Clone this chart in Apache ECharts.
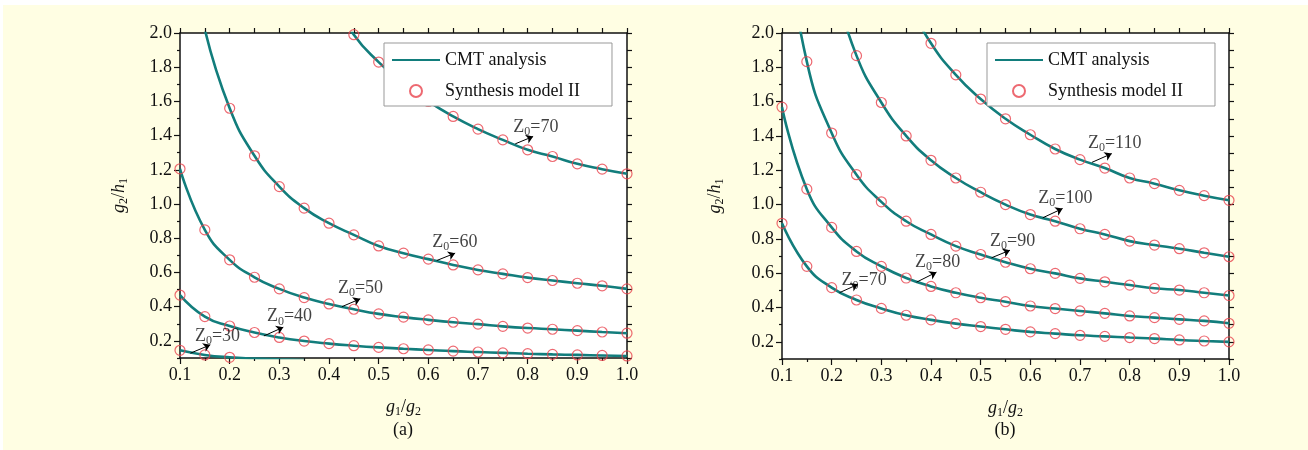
<!DOCTYPE html>
<html>
<head>
<meta charset="utf-8">
<script src="https://cdn.jsdelivr.net/npm/echarts@6/dist/echarts.min.js"></script>
<style>
  html, body { margin: 0; padding: 0; background: #fff; }
  #wrap { position: relative; width: 1308px; height: 450px; }
  #paper { position: absolute; left: 3px; top: 5px; right: 0; bottom: 0; background: #fffee3; }
  #chart { position: absolute; left: 0; top: 0; width: 1308px; height: 450px; }
</style>
</head>
<body>
<div id="wrap"><div id="paper"></div><div id="chart"></div></div>
<script>
// g1/g2 sample points
const xValues = [0.1, 0.15, 0.2, 0.25, 0.3, 0.35, 0.4, 0.45, 0.5, 0.55, 0.6, 0.65, 0.7, 0.75, 0.8, 0.85, 0.9, 0.95, 1.0];
const xTickLabels = [0.1, 0.2, 0.3, 0.4, 0.5, 0.6, 0.7, 0.8, 0.9, 1.0];
const yTickLabels = [0.2, 0.4, 0.6, 0.8, 1.0, 1.2, 1.4, 1.6, 1.8, 2.0];
const yMinorTicks = [0.1, 0.3, 0.5, 0.7, 0.9, 1.1, 1.3, 1.5, 1.7, 1.9];

// (a) g2/h1 for each Z0
const a30 = [0.145, 0.118, 0.104, 0.097, 0.092, 0.088, null, null, null, null, null, null, null, null, null, null, null, null, null];
const a40 = [0.468, 0.342, 0.287, 0.249, 0.220, 0.199, 0.184, 0.172, 0.162, 0.154, 0.147, 0.140, 0.135, 0.130, 0.125, 0.121, 0.118, 0.115, 0.112];
const a50 = [1.206, 0.849, 0.674, 0.572, 0.504, 0.453, 0.416, 0.385, 0.358, 0.339, 0.323, 0.309, 0.298, 0.285, 0.275, 0.268, 0.260, 0.252, 0.245];
const a60 = [null, 2.02, 1.56, 1.282, 1.102, 0.976, 0.888, 0.820, 0.755, 0.713, 0.678, 0.644, 0.615, 0.592, 0.570, 0.553, 0.537, 0.522, 0.504];
const a70 = [null, null, null, null, null, null, 2.24, 1.99, 1.83, 1.705, 1.60, 1.512, 1.438, 1.375, 1.317, 1.278, 1.235, 1.204, 1.177];

// (b) g2/h1 for each Z0
const b70 = [0.891, 0.640, 0.516, 0.444, 0.395, 0.355, 0.328, 0.306, 0.289, 0.273, 0.258, 0.248, 0.238, 0.232, 0.225, 0.219, 0.211, 0.205, 0.200];
const b80 = [1.568, 1.090, 0.867, 0.727, 0.640, 0.572, 0.523, 0.486, 0.457, 0.434, 0.409, 0.394, 0.380, 0.366, 0.351, 0.341, 0.331, 0.322, 0.308];
const b90 = [2.70, 1.833, 1.417, 1.174, 1.016, 0.903, 0.826, 0.758, 0.709, 0.664, 0.626, 0.599, 0.570, 0.550, 0.531, 0.512, 0.502, 0.486, 0.470];
const b100 = [null, null, 2.33, 1.868, 1.595, 1.400, 1.258, 1.155, 1.072, 1.000, 0.942, 0.903, 0.859, 0.826, 0.787, 0.764, 0.743, 0.719, 0.696];
const b110 = [null, null, null, null, null, 2.20, 1.94, 1.756, 1.615, 1.500, 1.407, 1.324, 1.262, 1.213, 1.155, 1.122, 1.083, 1.052, 1.025];

// Z0 callouts: [label, textX, textY, arrowFromX, arrowFromY, arrowToX, arrowToY]
const notesA = [
  ['30', 0.130, 0.229, 0.121, 0.128, 0.161, 0.177],
  ['40', 0.275, 0.342, 0.269, 0.229, 0.308, 0.280],
  ['50', 0.418, 0.510, 0.426, 0.400, 0.463, 0.446],
  ['60', 0.608, 0.778, 0.617, 0.670, 0.654, 0.713],
  ['70', 0.771, 1.450, 0.775, 1.352, 0.811, 1.395]
];
const notesB = [
  ['70', 0.220, 0.558, 0.216, 0.487, 0.253, 0.535],
  ['80', 0.368, 0.665, 0.371, 0.548, 0.411, 0.606],
  ['90', 0.519, 0.787, 0.522, 0.690, 0.559, 0.734],
  ['100', 0.616, 1.039, 0.625, 0.923, 0.665, 0.977],
  ['110', 0.716, 1.359, 0.724, 1.246, 0.764, 1.297]
];

const FONT = "'Liberation Serif', 'Times New Roman', serif";
const TEAL = '#127d7c';
const RED = '#e9444d';

const chart = echarts.init(document.getElementById('chart'));

const pair = (ys) => xValues.map((x, i) => [x, ys[i]]);

function curveSeries(ys, axisX, axisY) {
  return [
    {
      name: 'CMT analysis', type: 'line', xAxisIndex: axisX, yAxisIndex: axisY,
      data: pair(ys), smooth: true, showSymbol: false, symbol: 'none', clip: true,
      lineStyle: { color: TEAL, width: 2.6 }, itemStyle: { color: TEAL }, z: 3
    },
    {
      name: 'Synthesis model II', type: 'scatter', xAxisIndex: axisX, yAxisIndex: axisY,
      data: pair(ys).filter(p => p[1] != null), symbol: 'circle', symbolSize: 10, clip: true,
      itemStyle: { color: 'rgba(0,0,0,0)', borderColor: RED, borderWidth: 1.2 }, z: 4
    }
  ];
}

function noteSeries(notes, axisX, axisY) {
  return [
    {
      type: 'lines', coordinateSystem: 'cartesian2d', xAxisIndex: axisX, yAxisIndex: axisY,
      symbol: ['none', 'arrow'], symbolSize: 7, silent: true, z: 5,
      lineStyle: { color: '#000', width: 1, opacity: 1 },
      data: notes.map(n => ({ coords: [[n[3], n[4]], [n[5], n[6]]] }))
    },
    {
      type: 'scatter', xAxisIndex: axisX, yAxisIndex: axisY, symbolSize: 0, silent: true, z: 5,
      data: notes.map(n => ({ value: [n[1], n[2]], name: n[0] })),
      label: {
        show: true, position: 'right', distance: 0,
        formatter: (p) => '{z|Z}{s|0}{z|=' + p.name + '}',
        rich: {
          z: { fontFamily: FONT, fontSize: 18, lineHeight: 22, color: '#111' },
          s: { fontFamily: FONT, fontSize: 12, lineHeight: 12, verticalAlign: 'bottom', color: '#111' }
        }
      }
    }
  ];
}

const richSub = {
  i: { fontFamily: FONT, fontStyle: 'italic', fontSize: 18, lineHeight: 22, color: '#111' },
  n: { fontFamily: FONT, fontSize: 18, lineHeight: 22, color: '#111' },
  s: { fontFamily: FONT, fontSize: 12, lineHeight: 12, verticalAlign: 'bottom', color: '#111' }
};

function xAxes(gridIndex) {
  return [
    {
      gridIndex, type: 'value', position: 'bottom', min: 0.1, max: 1.0, interval: 0.1,
      name: '{i|g}{s|1}{n|/}{i|g}{s|2}', nameLocation: 'middle', nameGap: 38,
      nameTextStyle: { rich: richSub },
      axisLine: { lineStyle: { color: '#111', width: 1.5 } },
      axisTick: { show: true, inside: false, length: 6, lineStyle: { color: '#111', width: 1.2 } },
      minorTick: { show: true, splitNumber: 2, length: 3, lineStyle: { color: '#111', width: 1.2 } },
      axisLabel: { fontFamily: FONT, fontSize: 18, color: '#111', margin: 8, formatter: (v) => v.toFixed(1),
                   customValues: xTickLabels },
      splitLine: { show: false }
    },
    {
      gridIndex, type: 'value', position: 'top', min: 0.1, max: 1.0, interval: 0.05,
      axisLine: { lineStyle: { color: '#111', width: 1.5 } },
      axisTick: { show: true, inside: false, length: 5, lineStyle: { color: '#111', width: 1.2 } },
      axisLabel: { show: false }, splitLine: { show: false }
    }
  ];
}

function yAxes(gridIndex, nameGap) {
  return [
    {
      gridIndex, type: 'value', position: 'left', min: 0.1, max: 2.0,
      name: '{i|g}{s|2}{n|/}{i|h}{s|1}', nameLocation: 'middle', nameGap, nameRotate: 90,
      nameTextStyle: { rich: richSub },
      axisLine: { lineStyle: { color: '#111', width: 1.5 } },
      axisTick: { show: true, inside: false, length: 6, customValues: yTickLabels, lineStyle: { color: '#111', width: 1.2 } },
      axisLabel: { fontFamily: FONT, fontSize: 18, color: '#111', margin: 8, customValues: yTickLabels,
                   formatter: (v) => v.toFixed(1) },
      splitLine: { show: false }
    },
    {
      gridIndex, type: 'value', position: 'left', min: 0.1, max: 2.0,
      axisLine: { show: false },
      axisTick: { show: true, inside: false, length: 3, customValues: yMinorTicks, lineStyle: { color: '#111', width: 1.2 } },
      axisLabel: { show: false }, splitLine: { show: false }
    },
    {
      gridIndex, type: 'value', position: 'right', min: 0.1, max: 2.0, interval: 0.1,
      axisLine: { lineStyle: { color: '#111', width: 1.5 } },
      axisTick: { show: true, inside: false, length: 5, lineStyle: { color: '#111', width: 1.2 } },
      axisLabel: { show: false }, splitLine: { show: false }
    }
  ];
}

function legendAt(left) {
  return {
    left, top: 43, orient: 'vertical', itemWidth: 48, itemHeight: 12, itemGap: 13,
    padding: [8, 32, 6, 7], backgroundColor: '#fff', borderColor: '#999', borderWidth: 1,
    textStyle: { fontFamily: FONT, fontSize: 18, color: '#111' },
    data: [
      { name: 'CMT analysis', itemStyle: { opacity: 0 } },
      { name: 'Synthesis model II' }
    ],
    selectedMode: false, z: 10
  };
}

const series = [];
[a30, a40, a50, a60, a70].forEach(ys => series.push(...curveSeries(ys, 0, 0)));
[b70, b80, b90, b100, b110].forEach(ys => series.push(...curveSeries(ys, 2, 3)));
series.push(...noteSeries(notesA, 0, 0));
series.push(...noteSeries(notesB, 2, 3));

chart.setOption({
  backgroundColor: 'transparent',
  animation: false,
  grid: [
    { left: 180, top: 33, width: 447, height: 325, show: true, backgroundColor: '#fff', borderWidth: 0 },
    { left: 782, top: 33, width: 447, height: 326, show: true, backgroundColor: '#fff', borderWidth: 0 }
  ],
  xAxis: [...xAxes(0), ...xAxes(1)],
  yAxis: [...yAxes(0, 50), ...yAxes(1, 56)],
  legend: [legendAt(384), legendAt(987)],
  graphic: [
    { type: 'text', x: 403, y: 430, style: { text: '(a)', font: '18px ' + FONT, fill: '#111', textAlign: 'center', textVerticalAlign: 'middle' } },
    { type: 'text', x: 1005, y: 430, style: { text: '(b)', font: '18px ' + FONT, fill: '#111', textAlign: 'center', textVerticalAlign: 'middle' } }
  ],
  series
});
</script>
</body>
</html>
